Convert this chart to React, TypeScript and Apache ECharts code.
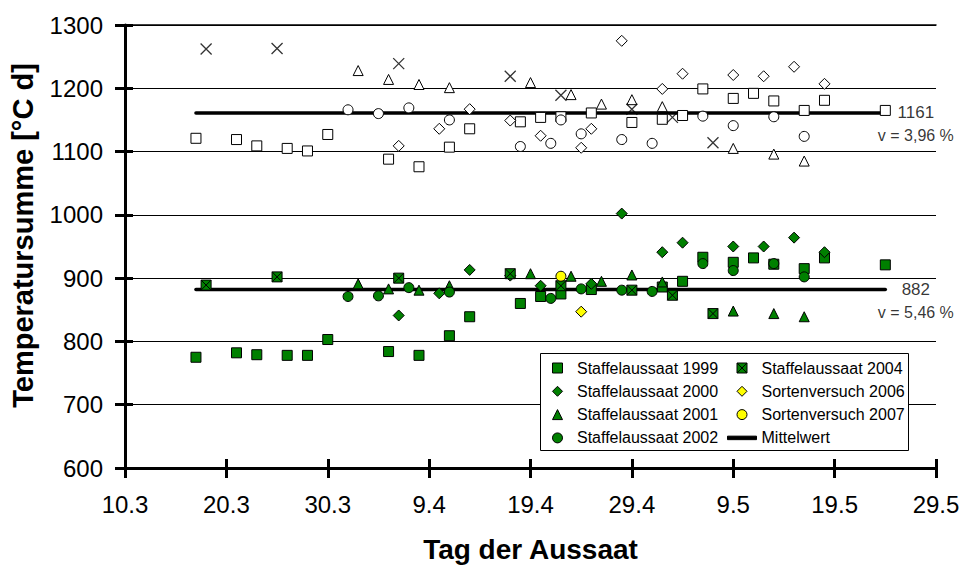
import React, { useEffect, useRef } from "react";
import * as echarts from "echarts";

// x = Tage nach dem 10.3.; Achsenbeschriftung alle 10 Tage
const xTickLabels = ["10.3", "20.3", "30.3", "9.4", "19.4", "29.4", "9.5", "19.5", "29.5"];

// untere Punktgruppe (gefüllt, in der Legende)
const staffel1999 = [
  [7, 775], [11, 782], [13, 779], [16, 778], [18, 778], [20, 803], [26, 784], [29, 778],
  [32, 809], [34, 839], [39, 860], [41, 871], [43, 875], [46, 882], [53, 886], [55, 895],
  [57, 933], [60, 925], [62, 932], [64, 922], [67, 915], [69, 932], [75, 921],
];
const staffel2000 = [
  [27, 841], [31, 876], [34, 913], [38, 904], [41, 888], [46, 891], [49, 1002], [53, 941],
  [55, 956], [60, 950], [63, 950], [66, 964], [69, 941],
];
const staffel2001 = [
  [23, 891], [26, 883], [29, 881], [32, 888], [40, 907], [44, 903], [47, 895], [50, 905],
  [53, 894], [60, 848], [64, 844], [67, 839],
];
const staffel2002 = [
  [22, 871], [25, 872], [28, 885], [32, 878], [42, 868], [45, 883], [49, 881], [52, 879],
  [57, 923], [60, 912], [64, 923], [67, 902],
];
const staffel2004 = [[8, 889], [15, 902], [27, 900], [38, 907], [43, 888], [50, 881], [54, 873], [58, 844]];
const sorten2006 = [[45, 847]];
const sorten2007 = [[43, 903]];

// obere Punktgruppe (hohl, ohne Legendeneintrag)
const oben1999 = [
  [7, 1121], [11, 1119], [13, 1109], [16, 1105], [18, 1101], [20, 1127], [26, 1088], [29, 1076],
  [32, 1107], [34, 1136], [39, 1147], [41, 1154], [43, 1155], [46, 1161], [50, 1146], [53, 1151],
  [55, 1157], [57, 1199], [60, 1184], [62, 1192], [64, 1180], [67, 1165], [69, 1181], [75, 1165],
];
const oben2000 = [
  [27, 1109], [31, 1136], [34, 1167], [38, 1149], [41, 1125], [46, 1136], [49, 1275], [53, 1199],
  [55, 1223], [60, 1221], [63, 1219], [66, 1234], [69, 1207],
];
const oben2001 = [
  [23, 1228], [26, 1214], [29, 1206], [32, 1201], [40, 1209], [44, 1190], [47, 1175], [50, 1182],
  [53, 1171], [60, 1105], [64, 1096], [67, 1085],
];
const oben2002 = [
  [22, 1166], [25, 1160], [28, 1169], [32, 1150], [39, 1108], [42, 1113], [45, 1128], [49, 1119],
  [52, 1113], [57, 1156], [60, 1141], [64, 1155], [67, 1124],
];
const oben2004 = [[8, 1262], [15, 1263], [27, 1239], [38, 1219], [43, 1189], [50, 1167], [54, 1154], [58, 1114]];
const oben2006 = [[45, 1106]];
const oben2007 = [[43, 1150]];

// Mittelwerte und Variationskoeffizienten
const mittelStart = 7;
const mittelEnde = 75;
const mittelwerte = [1161, 882];
const variationsLabels = ["v = 3,96 %", "v = 5,46 %"];

const FONT = "'Liberation Sans', Arial, Helvetica, sans-serif";
const GRUEN = "#008000";
const GELB = "#ffff00";

// Symbolformen als Pfade (behalten in der Legende ihr Seitenverhältnis)
const QUADRAT = "path://M0,0H10V10H0Z";
const RAUTE = "path://M5,0L10,5L5,10L0,5Z";
const DREIECK = "path://M5,0L10,10L0,10Z";
const KREIS = "path://M5,0A5,5 0 1,1 5,10A5,5 0 1,1 5,0Z";
const KREUZ = "path://M0,0L10,10M10,0L0,10";
const KASTEN_KREUZ = "path://M0,0H10V10H0Z M0,0L10,10 M10,0L0,10";
const LINIE = "path://M0,0H29V3.5H0Z";

function punkte(name: string, data: number[][], symbol: string, size: number, fill: string) {
  return {
    type: "scatter",
    name,
    data,
    symbol,
    symbolSize: size,
    itemStyle: { color: fill, borderColor: "#000", borderWidth: 1, opacity: 1 },
    z: 3,
    silent: true,
  };
}

function mittelLinie(wert: number) {
  return {
    type: "line",
    name: "Mittelwert",
    data: [[mittelStart, wert], [mittelEnde, wert]],
    symbol: "none",
    showSymbol: false,
    lineStyle: { color: "#000", width: 3.5, cap: "round" },
    itemStyle: { color: "#000", borderColor: "#000" },
    z: 2,
    silent: true,
  };
}

const legendBase = {
  orient: "vertical",
  top: 359,
  itemWidth: 29,
  itemHeight: 10,
  itemGap: 5.3,
  padding: 0,
  selectedMode: false,
  symbolKeepAspect: true,
  itemStyle: { borderWidth: 1 },
  textStyle: { fontSize: 16, color: "#000", fontFamily: FONT, lineHeight: 18 },
};

function buildOption() {
  const axisLineStyle = { color: "#000", width: 3 };
  return {
    animation: false,
    backgroundColor: "#fff",
    textStyle: { fontFamily: FONT },
    grid: { left: 123, right: 27, top: 25, bottom: 98, containLabel: false },
    xAxis: [
      {
        type: "value",
        min: 0,
        max: 80,
        interval: 10,
        position: "bottom",
        axisLine: { show: true, lineStyle: axisLineStyle },
        axisTick: { show: true, inside: false, length: 10, lineStyle: axisLineStyle },
        axisLabel: {
          fontSize: 24,
          color: "#000",
          margin: 24,
          fontFamily: FONT,
          formatter: (v: number) => xTickLabels[Math.round(v / 10)] ?? "",
        },
        splitLine: { show: false },
        name: "Tag der Aussaat",
        nameLocation: "middle",
        nameGap: 67,
        nameTextStyle: { fontSize: 28, fontWeight: "bold", color: "#000", fontFamily: FONT },
      },
      {
        type: "value",
        min: 0,
        max: 80,
        interval: 10,
        position: "bottom",
        axisLine: { show: false },
        axisTick: { show: true, inside: true, length: 9, lineStyle: axisLineStyle },
        axisLabel: { show: false },
        splitLine: { show: false },
      },
      {
        type: "value",
        min: 0,
        max: 80,
        interval: 10,
        position: "top",
        axisLine: { show: true, lineStyle: { color: "#000", width: 1.5 } },
        axisTick: { show: false },
        axisLabel: { show: false },
        splitLine: { show: false },
      },
    ],
    yAxis: [
      {
        type: "value",
        min: 600,
        max: 1300,
        interval: 100,
        position: "left",
        axisLine: { show: true, lineStyle: axisLineStyle },
        axisTick: { show: true, inside: false, length: 10, lineStyle: axisLineStyle },
        axisLabel: {
          fontSize: 24,
          color: "#000",
          margin: 22,
          fontFamily: FONT,
          formatter: (v: number) => String(v),
        },
        splitLine: { show: true, lineStyle: { color: "#000", width: 1 } },
        name: "Temperatursumme [°C d]",
        nameLocation: "middle",
        nameRotate: 90,
        nameGap: 88,
        nameTextStyle: {
          fontSize: 29,
          fontWeight: "bold",
          color: "#000",
          fontFamily: FONT,
          padding: [0, 0, 0, 22],
        },
      },
      {
        type: "value",
        min: 600,
        max: 1300,
        interval: 100,
        position: "left",
        axisLine: { show: false },
        axisTick: { show: true, inside: true, length: 8, lineStyle: axisLineStyle },
        axisLabel: { show: false },
        splitLine: { show: false },
      },
      {
        type: "value",
        min: 600,
        max: 1300,
        interval: 100,
        position: "right",
        axisLine: { show: true, lineStyle: { color: "#000", width: 2 } },
        axisTick: { show: false },
        axisLabel: { show: false },
        splitLine: { show: false },
      },
    ],
    legend: [
      {
        ...legendBase,
        left: 552,
        data: [
          { name: "Staffelaussaat 1999", icon: QUADRAT },
          { name: "Staffelaussaat 2000", icon: RAUTE },
          { name: "Staffelaussaat 2001", icon: DREIECK },
          { name: "Staffelaussaat 2002", icon: KREIS },
        ],
      },
      {
        ...legendBase,
        left: 727,
        data: [
          { name: "Staffelaussaat 2004", icon: KASTEN_KREUZ },
          { name: "Sortenversuch 2006", icon: RAUTE },
          { name: "Sortenversuch 2007", icon: KREIS },
          { name: "Mittelwert", icon: LINIE },
        ],
      },
    ],
    graphic: [
      {
        type: "rect",
        left: 540,
        top: 353,
        z: 3,
        shape: { width: 368, height: 97 },
        style: { fill: "#fff", stroke: "#000", lineWidth: 1 },
      },
    ],
    series: [
      mittelLinie(mittelwerte[0]),
      mittelLinie(mittelwerte[1]),
      {
        type: "scatter",
        name: "Kennwerte",
        data: mittelwerte.map((m) => [mittelEnde, m]),
        symbol: "circle",
        symbolSize: 1,
        itemStyle: { color: "transparent" },
        silent: true,
        z: 4,
        label: {
          show: true,
          position: [31, -10],
          align: "center",
          verticalAlign: "top",
          color: "#000",
          fontFamily: FONT,
          formatter: (p: any) => `{m|${mittelwerte[p.dataIndex]}}\n{v|${variationsLabels[p.dataIndex]}}`,
          rich: {
            m: { fontSize: 17, lineHeight: 20, color: "#000", fontFamily: FONT },
            v: { fontSize: 16, lineHeight: 26, color: "#000", fontFamily: FONT },
          },
        },
      },
      punkte("oben 1999", oben1999, "rect", 10, "#fff"),
      punkte("oben 2000", oben2000, "diamond", 11, "#fff"),
      punkte("oben 2001", oben2001, "triangle", 10, "#fff"),
      punkte("oben 2002", oben2002, "circle", 10, "#fff"),
      { ...punkte("oben 2004", oben2004, KREUZ, 11, "none"), itemStyle: { color: "none", borderColor: "#000", borderWidth: 1.3 } },
      punkte("oben 2006", oben2006, "diamond", 11, "#fff"),
      punkte("oben 2007", oben2007, "circle", 10, "#fff"),
      punkte("Staffelaussaat 1999", staffel1999, "rect", 10, GRUEN),
      punkte("Staffelaussaat 2000", staffel2000, "diamond", 11, GRUEN),
      punkte("Staffelaussaat 2001", staffel2001, "triangle", 10, GRUEN),
      punkte("Staffelaussaat 2002", staffel2002, "circle", 10, GRUEN),
      punkte("Staffelaussaat 2004", staffel2004, KASTEN_KREUZ, 10, GRUEN),
      punkte("Sortenversuch 2006", sorten2006, "diamond", 11, GELB),
      punkte("Sortenversuch 2007", sorten2007, "circle", 10, GELB),
    ],
  };
}

export default function App() {
  const ref = useRef<HTMLDivElement>(null);
  useEffect(() => {
    if (!ref.current) return;
    const chart = echarts.init(ref.current, null, { renderer: "svg" });
    chart.setOption(buildOption() as any);
    return () => chart.dispose();
  }, []);
  return (
    <div
      ref={ref}
      style={{ position: "absolute", left: 0, top: 0, width: 963, height: 568, background: "#fff" }}
    />
  );
}
